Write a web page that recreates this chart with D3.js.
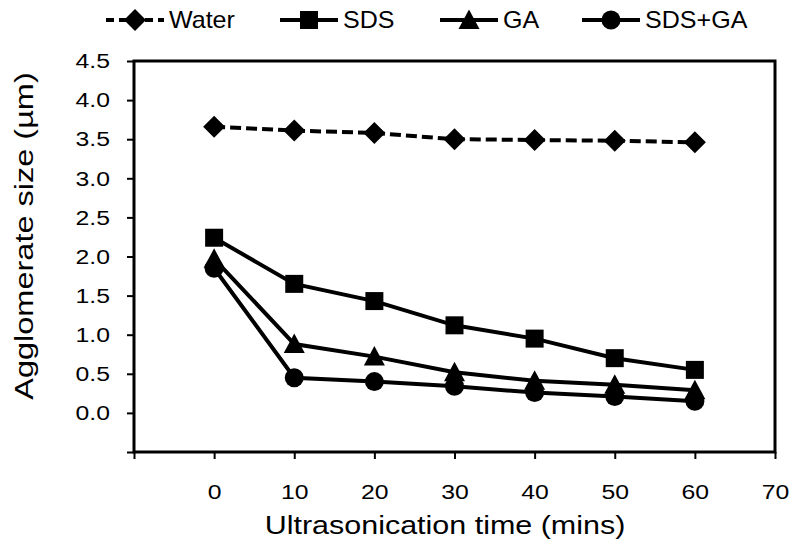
<!DOCTYPE html>
<html>
<head>
<meta charset="utf-8">
<script src="https://cdn.jsdelivr.net/npm/d3@7"></script>
<style>
html,body{margin:0;padding:0;background:#fff;}
svg{display:block;font-family:"Liberation Sans",Arial,sans-serif;}
</style>
</head>
<body>
<svg id="chart" width="790" height="543"></svg>
<script>
const times = [0, 10, 20, 30, 40, 50, 60];
const water = [3.66, 3.61, 3.58, 3.50, 3.49, 3.48, 3.46];
const sds = [2.24, 1.65, 1.43, 1.12, 0.95, 0.70, 0.55];
const ga = [1.97, 0.88, 0.72, 0.52, 0.41, 0.36, 0.29];
const sdsga = [1.85, 0.45, 0.40, 0.34, 0.26, 0.21, 0.15];
const seriesNames = ["Water", "SDS", "GA", "SDS+GA"];
const xTicks = [-10, 0, 10, 20, 30, 40, 50, 60, 70];
const yTicks = [-0.5, 0, 0.5, 1.0, 1.5, 2.0, 2.5, 3.0, 3.5, 4.0, 4.5];
const xTitle = "Ultrasonication time (mins)";
const yTitle = "Agglomerate size (µm)";

const svg = d3.select("#chart");
const L = 134, R = 775, T = 61, B = 452;
const x = d3.scaleLinear().domain([-10, 70]).range([L, R]);
const y = d3.scaleLinear().domain([-0.5, 4.5]).range([B, T]);

const diamond = {draw(ctx) { const r = 11; ctx.moveTo(0, -r); ctx.lineTo(r, 0); ctx.lineTo(0, r); ctx.lineTo(-r, 0); ctx.closePath(); }};
const square = {draw(ctx) { const r = 9; ctx.rect(-r, -r, 2 * r, 2 * r); }};
const triangle = {draw(ctx) { ctx.moveTo(0, -10.5); ctx.lineTo(10.5, 9); ctx.lineTo(-10.5, 9); ctx.closePath(); }};
const circle = {draw(ctx) { ctx.moveTo(9.5, 0); ctx.arc(0, 0, 9.5, 0, 2 * Math.PI); }};

const series = [
  {name: seriesNames[0], values: water, sym: diamond, dash: "11,5"},
  {name: seriesNames[1], values: sds, sym: square, dash: null},
  {name: seriesNames[2], values: ga, sym: triangle, dash: null},
  {name: seriesNames[3], values: sdsga, sym: circle, dash: null}
];

// frame
svg.append("rect").attr("x", L).attr("y", T).attr("width", R - L).attr("height", B - T)
  .attr("fill", "none").attr("stroke", "#000").attr("stroke-width", 3);

const tickFont = 21, tickSx = 1.18;

// x axis
const xa = svg.append("g").attr("transform", `translate(0,${B})`)
  .call(d3.axisBottom(x).tickValues(xTicks).tickSize(7).tickPadding(25)
    .tickFormat(d => d < 0 ? "" : d3.format("d")(d)));
xa.select(".domain").remove();
xa.attr("font-size", tickFont).attr("font-family", "Liberation Sans, Arial, sans-serif");
xa.selectAll("line").attr("stroke", "#000").attr("stroke-width", 2);
xa.selectAll("text").attr("fill", "#000").attr("transform", `scale(${tickSx},1)`);

// y axis
const ya = svg.append("g").attr("transform", `translate(${L},0)`)
  .call(d3.axisLeft(y).tickValues(yTicks).tickSize(7).tickPadding(17)
    .tickFormat(d => d < 0 ? "" : d3.format(".1f")(d)));
ya.select(".domain").remove();
ya.attr("font-size", tickFont).attr("font-family", "Liberation Sans, Arial, sans-serif");
ya.selectAll("line").attr("stroke", "#000").attr("stroke-width", 2);
ya.selectAll("text").attr("fill", "#000").attr("x", -24 / tickSx).attr("transform", `scale(${tickSx},1)`);

// titles
svg.append("text").attr("transform", `translate(445,534) scale(1.15,1)`).attr("text-anchor", "middle")
  .attr("font-size", 26.5).attr("fill", "#000").text(xTitle);
svg.append("text").attr("transform", `translate(33,236) rotate(-90) scale(1.3,1)`).attr("text-anchor", "middle")
  .attr("font-size", 25).attr("fill", "#000").text(yTitle);

// lines and markers
const line = d3.line().x((d, i) => x(times[i])).y(d => y(d));
series.forEach(s => {
  svg.append("path").datum(s.values).attr("d", line).attr("fill", "none")
    .attr("stroke", "#000").attr("stroke-width", 4)
    .attr("stroke-dasharray", s.dash);
});
series.forEach(s => {
  svg.append("g").selectAll("path").data(s.values).join("path")
    .attr("transform", (d, i) => `translate(${x(times[i])},${y(d)})`)
    .attr("d", d3.symbol().type(s.sym)).attr("fill", "#000");
});

// legend
const legendX = [106, 280, 440, 582];
const ly = 20;
series.forEach((s, i) => {
  const g = svg.append("g").attr("transform", `translate(${legendX[i]},${ly})`);
  g.append("line").attr("x1", 0).attr("x2", 58).attr("y1", 0).attr("y2", 0)
    .attr("stroke", "#000").attr("stroke-width", 4).attr("stroke-dasharray", s.dash ? "8,5" : null);
  g.append("path").attr("transform", "translate(29,0)")
    .attr("d", d3.symbol().type(s.sym)).attr("fill", "#000");
  g.append("text").attr("transform", "translate(63,8.2) scale(1.09,1)")
    .attr("font-size", 23).attr("fill", "#000").text(s.name);
});
</script>
</body>
</html>
